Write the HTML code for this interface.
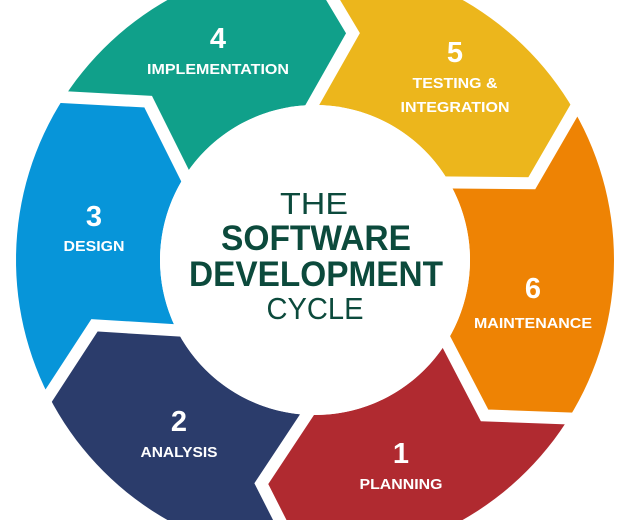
<!DOCTYPE html>
<html><head><meta charset="utf-8"><style>
html,body{margin:0;padding:0;background:#fff;width:627px;height:520px;overflow:hidden;}
svg{display:block;}
</style></head><body>
<svg id="c" width="627" height="520" viewBox="0 0 627 520">
<g id="segs"></g>
<g id="gaps"></g>
<circle cx="315" cy="260" r="155" fill="#fff"/>
<g font-family="'Liberation Sans', sans-serif" fill="#0c4a3c" text-anchor="middle">
<text x="314" y="214" font-size="31" textLength="68" lengthAdjust="spacingAndGlyphs">THE</text>
<text x="316" y="250" font-size="35" font-weight="bold" textLength="190" lengthAdjust="spacingAndGlyphs">SOFTWARE</text>
<text x="316" y="286" font-size="35" font-weight="bold" textLength="254" lengthAdjust="spacingAndGlyphs">DEVELOPMENT</text>
<text x="315" y="319" font-size="31" textLength="97" lengthAdjust="spacingAndGlyphs">CYCLE</text>
</g>
<g font-family="'Liberation Sans', sans-serif" fill="#fff" font-weight="bold" text-anchor="middle">
<text x="218" y="48" font-size="29">4</text>
<text x="218" y="74" font-size="15" textLength="142" lengthAdjust="spacingAndGlyphs">IMPLEMENTATION</text>
<text x="455" y="62" font-size="29">5</text>
<text x="455" y="88" font-size="15" textLength="85" lengthAdjust="spacingAndGlyphs">TESTING &amp;</text>
<text x="455" y="112" font-size="15" textLength="109" lengthAdjust="spacingAndGlyphs">INTEGRATION</text>
<text x="94" y="226" font-size="29">3</text>
<text x="94" y="251" font-size="15" textLength="61" lengthAdjust="spacingAndGlyphs">DESIGN</text>
<text x="533" y="298" font-size="29">6</text>
<text x="533" y="328" font-size="15" textLength="118" lengthAdjust="spacingAndGlyphs">MAINTENANCE</text>
<text x="179" y="431" font-size="29">2</text>
<text x="179" y="457" font-size="15" textLength="77" lengthAdjust="spacingAndGlyphs">ANALYSIS</text>
<text x="401" y="463" font-size="29">1</text>
<text x="401" y="489" font-size="15" textLength="83" lengthAdjust="spacingAndGlyphs">PLANNING</text>
</g>
</svg>
<script>
const stageNames = ["testing", "maintenance", "planning", "analysis", "design", "implementation"];
const boundaryAngles = [-1, 60, 122, 183, 243, 303];
const stageColors = ["#ecb61c", "#ee8304", "#b02a30", "#2b3c6b", "#0795d9", "#10a08a"];
const CX = 315, CY = 260, RO = 299, RI = 155, RM = 230, TIP = 10.5;
const NS = "http://www.w3.org/2000/svg";
function pt(r, deg) { const a = deg * Math.PI / 180; return [CX + r * Math.sin(a), CY - r * Math.cos(a)]; }
function ext(p, m, k) { return [p[0] + (p[0] - m[0]) * k, p[1] + (p[1] - m[1]) * k]; }
const segs = document.getElementById('segs'), gaps = document.getElementById('gaps');
for (let i = 0; i < boundaryAngles.length; i++) {
  const a = boundaryAngles[i];
  let b = boundaryAngles[(i + 1) % boundaryAngles.length];
  if (b <= a) b += 360;
  const pts = [];
  pts.push(pt(RO, a), pt(RM, a + TIP), pt(RI, a));
  for (let t = a; t <= b; t += 2) pts.push(pt(RI, t));
  pts.push(pt(RI, b), pt(RM, b + TIP), pt(RO, b));
  for (let t = b; t >= a; t -= 2) pts.push(pt(RO, t));
  pts.push(pt(RO, a));
  const p = document.createElementNS(NS, 'polygon');
  p.setAttribute('points', pts.map(q => q.join(',')).join(' '));
  p.setAttribute('fill', stageColors[i]);
  
  
  segs.appendChild(p);
  const o = pt(RO, a), m = pt(RM, a + TIP), n = pt(RI, a);
  const g = document.createElementNS(NS, 'polyline');
  g.setAttribute('points', [ext(o, m, 0.5), m, ext(n, m, 0.3)].map(q => q.join(',')).join(' '));
  g.setAttribute('fill', 'none');
  g.setAttribute('stroke', '#fff');
  g.setAttribute('stroke-width', '12');
  g.setAttribute('stroke-linejoin', 'miter');
  
  
  gaps.appendChild(g);
}
</script>
</body></html>
